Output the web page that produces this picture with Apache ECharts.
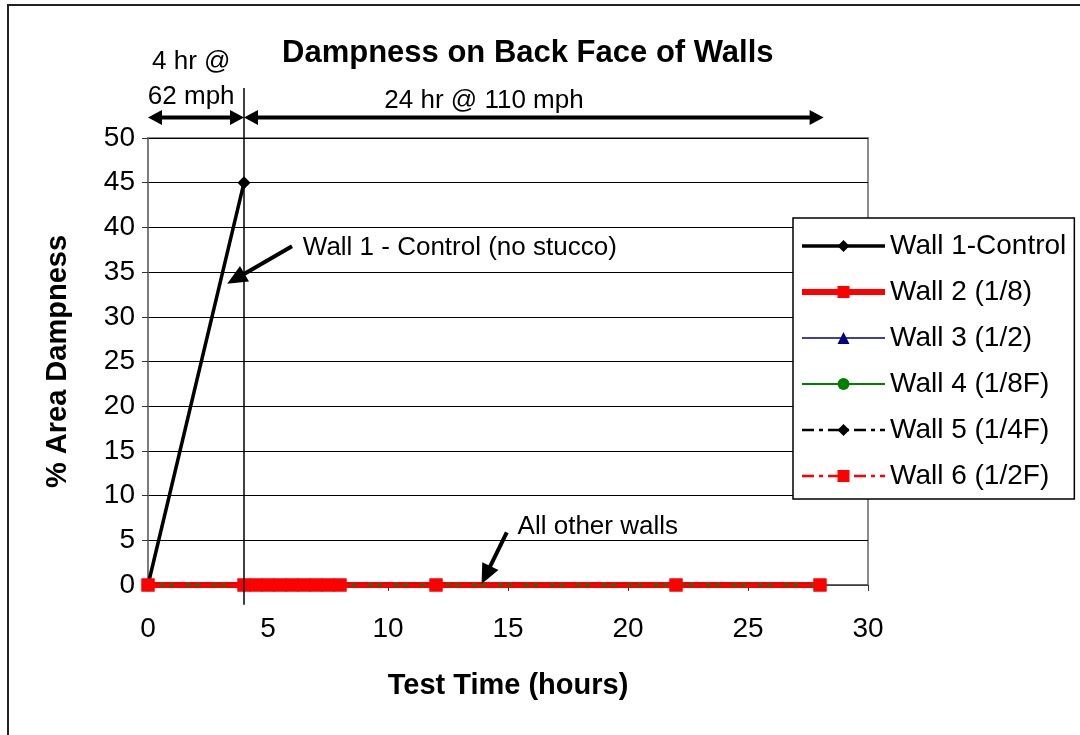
<!DOCTYPE html>
<html><head><meta charset="utf-8">
<script src="https://cdn.jsdelivr.net/npm/echarts@6/dist/echarts.min.js"></script>
<style>html,body{margin:0;padding:0;background:#fff}#c{width:1080px;height:735px}</style>
</head><body><div id="c"></div>
<script>
// ---- data ----
const times = [0, 4, 4.5, 5, 5.5, 6, 6.5, 7, 7.5, 8, 12, 22, 28];
const wall1Times = [0, 4];
const wall1 = [0, 45];
const wall2 = [0, 0, 0, 0, 0, 0, 0, 0, 0, 0, 0, 0, 0];
const wall3 = [0, 0, 0, 0, 0, 0, 0, 0, 0, 0, 0, 0, 0];
const wall4 = [0, 0, 0, 0, 0, 0, 0, 0, 0, 0, 0, 0, 0];
const wall5 = [0, 0, 0, 0, 0, 0, 0, 0, 0, 0, 0, 0, 0];
const wall6 = [0, 0, 0, 0, 0, 0, 0, 0, 0, 0, 0, 0, 0];
const seriesNames = ['Wall 1-Control', 'Wall 2 (1/8)', 'Wall 3 (1/2)', 'Wall 4 (1/8F)', 'Wall 5 (1/4F)', 'Wall 6 (1/2F)'];
const titleText = 'Dampness on Back Face of Walls';
const xName = 'Test Time (hours)';
const yName = '% Area Dampness';
// phase annotations (hours)
const phase1 = {from: 0, to: 4, line1: '4 hr @', line2: '62 mph'};
const phase2 = {from: 4, to: 28, label: '24 hr @ 110 mph'};
const note1 = {text: 'Wall 1 - Control (no stucco)', textAt: [6.45, 37.7], tail: [6.0, 37.9], tip: [3.3, 33.7]};
const note2 = {text: 'All other walls', textAt: [15.4, 6.5], tail: [14.95, 5.9], tip: [13.9, 0.1]};

const FONT = "'Liberation Sans', Arial, sans-serif";
const zip = (xs, ys) => xs.map((x, i) => [x, ys[i]]);
const dashDot = [12, 5, 4, 5];
const lineWidths = [3.5, 6, 1.5, 2, 2.5, 2.5];

const chart = echarts.init(document.getElementById('c'), null, {renderer: 'canvas'});
const series = [
  {name: seriesNames[0], data: zip(wall1Times, wall1), color: '#000000', lineStyle: {width: lineWidths[0], color: '#000'}, symbol: 'diamond', symbolSize: 13, z: 2},
  {name: seriesNames[1], data: zip(times, wall2), color: '#ff0000', lineStyle: {width: lineWidths[1], color: '#ff0000'}, symbol: 'rect', symbolSize: 13, z: 3},
  {name: seriesNames[2], data: zip(times, wall3), color: '#000080', lineStyle: {width: lineWidths[2], color: '#000080'}, symbol: 'triangle', symbolSize: 12, z: 3},
  {name: seriesNames[3], data: zip(times, wall4), color: '#008000', lineStyle: {width: lineWidths[3], color: '#008000'}, symbol: 'circle', symbolSize: 12, z: 4},
  {name: seriesNames[4], data: zip(times, wall5), color: '#000000', lineStyle: {width: lineWidths[4], color: '#000', type: dashDot}, symbol: 'diamond', symbolSize: 12, z: 3},
  {name: seriesNames[5], data: zip(times, wall6), color: '#ff0000', lineStyle: {width: lineWidths[5], color: '#ff0000', type: dashDot}, symbol: 'rect', symbolSize: 13, z: 5}
].map(s => Object.assign({type: 'line', showSymbol: true, animation: false, itemStyle: {color: s.color}}, s));

chart.setOption({
  animation: false,
  backgroundColor: '#fff',
  textStyle: {fontFamily: FONT},
  title: {text: titleText, left: 277, top: 33, textStyle: {fontFamily: FONT, fontSize: 31, fontWeight: 'bold', color: '#000'}},
  grid: {left: 148, right: 212, top: 138, bottom: 150, show: true, borderColor: '#8c8c8c', borderWidth: 2, backgroundColor: 'transparent'},
  legend: {
    orient: 'vertical', left: 793, top: 218,
    backgroundColor: '#fff', borderColor: '#000', borderWidth: 1.5,
    padding: [13, 8, 8, 6], itemWidth: 83, itemHeight: 15, itemGap: 16,
    textStyle: {fontFamily: FONT, fontSize: 28, color: '#000', lineHeight: 30, padding: [0, 0, 0, 0]},
    data: seriesNames.map((n, i) => ({name: n, lineStyle: {width: lineWidths[i]}})), z: 10
  },
  xAxis: {
    type: 'value', min: 0, max: 30, interval: 5,
    name: xName, nameLocation: 'middle', nameGap: 86,
    nameTextStyle: {fontFamily: FONT, fontSize: 29, fontWeight: 'bold', color: '#000'},
    axisLine: {show: true, onZero: false, lineStyle: {color: '#555', width: 1.5}},
    axisTick: {show: true, inside: false, length: 6, lineStyle: {color: '#333'}},
    axisLabel: {fontFamily: FONT, fontSize: 28, color: '#000', margin: 30},
    splitLine: {show: false}
  },
  yAxis: {
    type: 'value', min: 0, max: 50, interval: 5,
    name: yName, nameLocation: 'middle', nameGap: 76, nameRotate: 90,
    nameTextStyle: {fontFamily: FONT, fontSize: 29, fontWeight: 'bold', color: '#000'},
    axisLine: {show: true, lineStyle: {color: '#777', width: 1.5}},
    axisTick: {show: true, inside: false, length: 6, lineStyle: {color: '#333'}},
    axisLabel: {fontFamily: FONT, fontSize: 28, color: '#000', margin: 13},
    splitLine: {show: true, lineStyle: {color: '#000', width: 1}}
  },
  series: series
});

function px(pt) { return chart.convertToPixel({gridIndex: 0}, pt); }
function arrowHead(tip, from, len, half) {
  const dx = tip[0] - from[0], dy = tip[1] - from[1];
  const d = Math.hypot(dx, dy), ux = dx / d, uy = dy / d;
  const bx = tip[0] - ux * len, by = tip[1] - uy * len;
  return {type: 'polygon', shape: {points: [tip, [bx - uy * half, by + ux * half], [bx + uy * half, by - ux * half]]}, style: {fill: '#000'}, z: 20};
}
function arrow(tailPt, tipPt, w, len, half) {
  const a = px(tailPt), b = px(tipPt);
  const dx = b[0] - a[0], dy = b[1] - a[1], d = Math.hypot(dx, dy);
  const end = [b[0] - dx / d * (len * 0.8), b[1] - dy / d * (len * 0.8)];
  return [
    {type: 'line', shape: {x1: a[0], y1: a[1], x2: end[0], y2: end[1]}, style: {stroke: '#000', lineWidth: w}, z: 20},
    arrowHead(b, a, len, half)
  ];
}
function dblArrow(x0, x1, yv) {
  const a = px([x0, yv]), b = px([x1, yv]);
  return [
    {type: 'line', shape: {x1: a[0] + 10, y1: a[1], x2: b[0] - 10, y2: b[1]}, style: {stroke: '#000', lineWidth: 4}, z: 20},
    arrowHead(a, b, 14, 7.5), arrowHead(b, a, 14, 7.5)
  ];
}
function label(text, pt, align) {
  const p = px(pt);
  return {type: 'text', x: p[0], y: p[1], style: {text: text, fill: '#000', font: '26px ' + FONT, textAlign: align || 'left', textVerticalAlign: 'middle'}, z: 20};
}
const g = [];
g.push({type: 'rect', shape: {x: 8, y: 5, width: 1200, height: 900}, style: {fill: 'none', stroke: '#222', lineWidth: 2}, z: 0, silent: true});
const vTop = px([phase1.to, 55.6]), vBot = px([phase1.to, -2.2]);
g.push({type: 'line', shape: {x1: vTop[0], y1: vTop[1], x2: vBot[0], y2: vBot[1]}, style: {stroke: '#000', lineWidth: 1.5}, z: 20});
g.push(...dblArrow(phase1.from, phase1.to, 52.3));
g.push(...dblArrow(phase2.from, phase2.to + 0.15, 52.3));
g.push(label(phase1.line1, [(phase1.from + phase1.to) / 2 - 0.2, 58.5], 'center'));
g.push(label(phase1.line2, [(phase1.from + phase1.to) / 2 - 0.2, 54.6], 'center'));
g.push(label(phase2.label, [14.0, 54.2], 'center'));
g.push(label(note1.text, note1.textAt));
g.push(...arrow(note1.tail, note1.tip, 4, 20, 9));
g.push(label(note2.text, note2.textAt));
g.push(...arrow(note2.tail, note2.tip, 4, 20, 9));
chart.setOption({graphic: g});
</script>
</body></html>
